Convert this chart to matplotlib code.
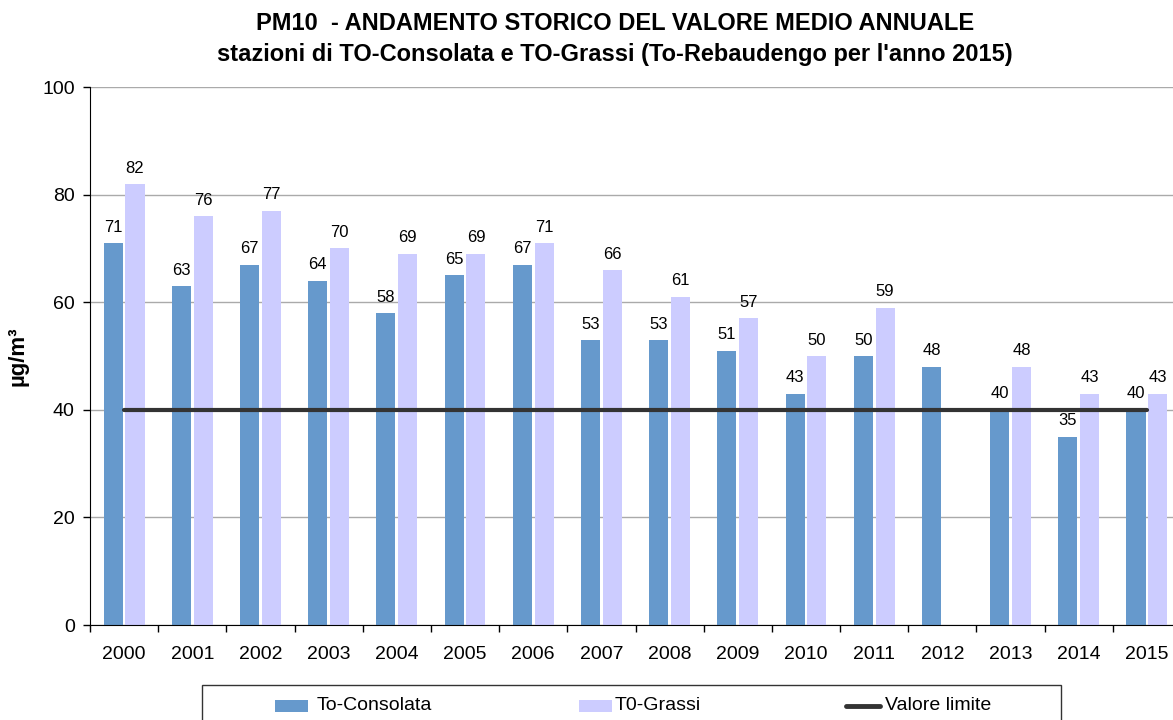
import matplotlib
matplotlib.use("Agg")
import matplotlib.pyplot as plt
from matplotlib.patches import Rectangle
from matplotlib.lines import Line2D
import numpy as np

plt.rcParams['font.family'] = ['Liberation Sans', 'DejaVu Sans']

years = ['2000', '2001', '2002', '2003', '2004', '2005', '2006', '2007',
         '2008', '2009', '2010', '2011', '2012', '2013', '2014', '2015']
consolata = [71, 63, 67, 64, 58, 65, 67, 53, 53, 51, 43, 50, 48, 40, 35, 40]
grassi = [82, 76, 77, 70, 69, 69, 71, 66, 61, 57, 50, 59, np.nan, 48, 43, 43]
limite = [40] * len(years)

title1 = "PM10  - ANDAMENTO STORICO DEL VALORE MEDIO ANNUALE"
title2 = "stazioni di TO-Consolata e TO-Grassi (To-Rebaudengo per l'anno 2015)"
ylabel = "µg/m³"
series_names = ["To-Consolata", "T0-Grassi", "Valore limite"]

c_blue = '#6699CC'
c_lav = '#CCCCFF'
c_line = '#333333'

W, H = 1173, 720
fig = plt.figure(figsize=(W / 100, H / 100), dpi=100)
ax = fig.add_axes([90 / W, 1 - 625 / H, (1181 - 90) / W, (625 - 87) / H])

x = np.arange(len(years))
bw = 0.28
off = 0.16
ax.bar(x - off, consolata, width=bw, color=c_blue, zorder=2)
ax.bar(x + off, grassi, width=bw, color=c_lav, zorder=2)
ax.plot(x, limite, color=c_line, lw=3, zorder=3, solid_capstyle='round')

for xi, v in zip(x, consolata):
    ax.annotate(f"{v:g}", (xi - off, v), xytext=(0, 6), textcoords='offset points',
                ha='center', va='bottom', fontsize=12, zorder=4)
for xi, v in zip(x, grassi):
    if not np.isnan(v):
        ax.annotate(f"{v:g}", (xi + off, v), xytext=(0, 6), textcoords='offset points',
                    ha='center', va='bottom', fontsize=12, zorder=4)

ax.set_xlim(-0.5, len(years) - 0.5)
ax.set_ylim(0, 100)
ax.set_yticks(np.arange(0, 101, 20))
ax.yaxis.grid(True, color='#AAAAAA', lw=1, zorder=0)
ax.set_axisbelow(True)
ax.set_xticks(x)
ax.set_xticklabels(years)
ax.set_xticks(np.arange(-0.5, len(years), 1), minor=True)
ax.tick_params(axis='x', which='major', length=0, labelsize=14, pad=15)
ax.tick_params(axis='x', which='minor', length=5, direction='out', width=1)
ax.tick_params(axis='y', length=5, direction='out', labelsize=14, width=1, pad=6)
for s in ['top', 'right']:
    ax.spines[s].set_visible(False)
ax.spines['left'].set_color('black')
ax.spines['bottom'].set_color('black')
ax.set_ylabel(ylabel, fontsize=16, fontweight='bold', labelpad=10)

fig.text(615 / W, 1 - 24 / H, title1, ha='center', va='center',
         fontsize=17, fontweight='bold')
fig.text(615 / W, 1 - 54 / H, title2, ha='center', va='center',
         fontsize=17, fontweight='bold')

# legend box (extends below figure edge)
fig.add_artist(Rectangle((202 / W, -0.02), (1061 - 202) / W, 0.02 + (720 - 685) / H,
                         transform=fig.transFigure, fill=False, edgecolor='#333333',
                         lw=1, clip_on=False))
ly = 1 - 706 / H
fig.add_artist(Rectangle((275 / W, 1 - 712 / H), 33 / W, 12 / H, transform=fig.transFigure,
                         facecolor=c_blue, edgecolor='none'))
fig.text(317 / W, ly, series_names[0], ha='left', va='center', fontsize=14)
fig.add_artist(Rectangle((579 / W, 1 - 712 / H), 33 / W, 12 / H, transform=fig.transFigure,
                         facecolor=c_lav, edgecolor='none'))
fig.text(615 / W, ly, series_names[1], ha='left', va='center', fontsize=14)
fig.add_artist(Line2D([846 / W, 880 / W], [ly, ly], transform=fig.transFigure,
                      color=c_line, lw=3.5, solid_capstyle='round'))
fig.text(885 / W, ly, series_names[2], ha='left', va='center', fontsize=14)

fig.savefig('out.png', dpi=100)
